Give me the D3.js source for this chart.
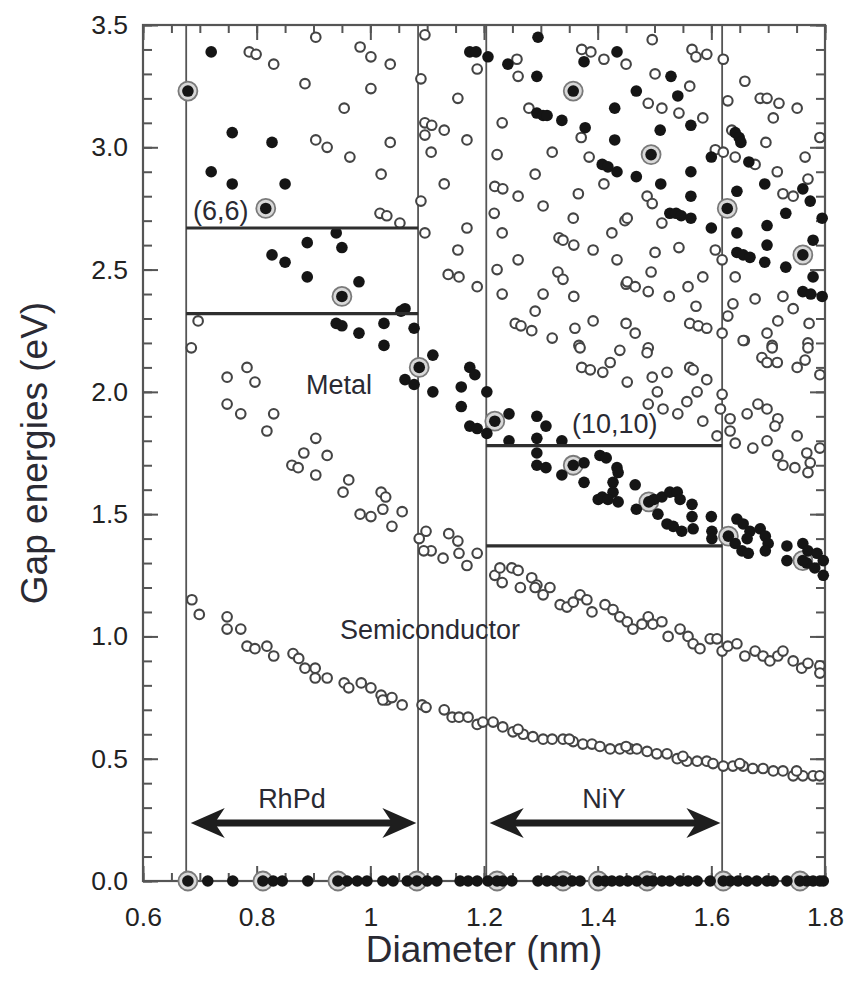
<!DOCTYPE html>
<html>
<head>
<meta charset="utf-8">
<script src="https://cdn.jsdelivr.net/npm/d3@7"></script>
<style>
  body { margin: 0; background: #fff; }
  svg { display: block; }
</style>
</head>
<body>
<div id="chart"></div>
<script>
// semiconducting tubes (open circles), [diameter nm, gap eV]
var semiPts = [
  [0.904,3.45],[0.787,3.39],[0.799,3.38],[0.830,3.34],[0.982,3.41],[1.001,3.37],[1.035,3.34],[0.885,3.26],
  [1.001,3.24],[0.954,3.16],[0.904,3.03],[0.924,3.00],[0.964,2.96],[1.035,3.02],[1.019,2.89],[1.017,2.73],
  [1.029,2.72],[1.052,2.69],[0.697,2.29],[0.685,2.18],
  [1.096,3.46],[1.089,3.28],[1.188,3.32],[1.154,3.20],[1.096,3.10],[1.108,3.09],[1.096,3.05],[1.130,3.07],
  [1.107,2.98],[1.170,3.03],[1.130,2.85],[1.089,2.78],[1.096,2.65],[1.170,2.67],[1.154,2.58],[1.137,2.48],
  [1.156,2.47],[1.188,2.43],
  [1.232,3.10],[1.223,2.97],[1.219,2.84],[1.233,2.83],[1.260,2.80],[1.304,2.76],[1.218,2.73],[1.232,2.65],
  [1.320,2.98],[1.290,2.89],[1.279,3.16],[1.258,3.36],[1.260,3.29],[1.372,3.40],[1.388,3.39],[1.411,3.36],
  [1.450,3.34],[1.371,3.04],[1.385,2.96],[1.411,2.85],[1.366,2.81],[1.357,2.71],[1.425,2.65],[1.448,2.70],
  [1.332,2.63],[1.339,2.62],[1.358,2.60],[1.392,2.58],[1.260,2.54],[1.223,2.50],[1.330,2.49],[1.339,2.46],
  [1.434,2.54],[1.450,2.44],[1.232,2.40],[1.304,2.40],[1.358,2.39],[1.290,2.33],[1.255,2.28],[1.265,2.27],
  [1.284,2.25],[1.320,2.22],[1.360,2.26],[1.392,2.29],[1.367,2.19],[1.450,2.28],
  [1.496,3.44],[1.566,3.40],[1.573,3.37],[1.592,3.38],[1.621,3.36],[1.501,3.30],[1.562,3.25],[1.489,3.18],
  [1.513,3.16],[1.543,3.14],[1.585,3.12],[1.659,3.27],[1.629,3.19],[1.686,3.20],[1.698,3.20],[1.719,3.18],
  [1.751,3.16],[1.709,3.12],[1.636,3.07],[1.696,3.02],[1.791,3.04],[1.607,2.99],[1.621,2.98],[1.642,2.96],
  [1.677,2.93],[1.765,2.96],[1.716,2.90],[1.770,2.87],[1.726,2.81],[1.744,2.80],[1.487,2.80],[1.496,2.77],
  [1.452,2.71],[1.513,2.69],[1.501,2.57],[1.543,2.59],[1.607,2.58],[1.619,2.54],[1.494,2.49],[1.452,2.45],
  [1.466,2.43],[1.489,2.41],[1.526,2.39],[1.559,2.43],[1.585,2.47],[1.642,2.47],[1.573,2.35],[1.562,2.28],
  [1.577,2.27],[1.592,2.26],[1.619,2.24],[1.638,2.36],[1.629,2.31],[1.677,2.38],[1.726,2.39],[1.744,2.34],
  [1.717,2.29],[1.698,2.24],[1.658,2.21],[1.772,2.28],[1.466,2.24],[1.770,2.20],[1.489,2.18],[1.707,2.19],
  [0.748,2.06],[0.783,2.10],[0.797,2.04],[0.748,1.95],[0.772,1.91],[0.830,1.91],[0.818,1.84],[0.904,1.81],
  [0.883,1.75],[0.924,1.74],[0.862,1.70],[0.873,1.69],[0.904,1.66],[0.962,1.64],[0.952,1.59],[1.019,1.59],
  [1.027,1.57],[1.022,1.52],[0.982,1.50],[1.001,1.49],[1.056,1.51],[1.038,1.45],[1.098,1.43],[1.086,1.40],
  [1.107,1.35],[1.094,1.35],[1.138,1.42],[1.154,1.39],[1.156,1.34],[1.128,1.32],[1.170,1.29],[1.188,1.34],
  [1.369,2.18],[1.439,2.17],[1.422,2.12],[1.409,2.08],[1.372,2.10],[1.387,2.09],[1.487,2.16],[1.452,2.04],
  [1.496,2.06],[1.505,2.00],[1.489,1.95],[1.515,1.93],[1.522,2.08],[1.562,2.10],[1.568,2.09],[1.592,2.05],
  [1.575,2.00],[1.557,1.96],[1.541,1.91],[1.585,1.88],[1.619,1.99],[1.616,1.93],[1.633,1.89],[1.633,1.84],
  [1.610,1.82],[1.642,1.79],[1.656,2.21],[1.663,1.91],[1.673,1.77],[1.682,1.95],[1.698,1.93],[1.717,1.89],
  [1.712,1.86],[1.698,1.80],[1.717,1.74],[1.726,1.70],[1.747,1.69],[1.689,2.14],[1.698,2.12],[1.716,2.12],
  [1.707,2.18],[1.751,2.10],[1.765,2.13],[1.770,2.18],[1.751,1.82],[1.768,1.75],[1.774,1.71],[1.770,1.67],
  [1.791,2.07],[1.791,1.77],
  [1.219,1.25],[1.228,1.28],[1.249,1.28],[1.260,1.27],[1.264,1.20],[1.284,1.24],[1.293,1.21],[1.304,1.17],
  [1.316,1.20],[1.232,1.22],[1.290,1.20],
  [1.334,1.13],[1.346,1.12],[1.357,1.14],[1.369,1.17],[1.381,1.15],[1.390,1.10],[1.413,1.13],[1.427,1.11],
  [1.439,1.08],[1.452,1.06],[1.462,1.03],[1.478,1.05],[1.489,1.08],[1.497,1.05],[1.513,1.06],[1.524,1.00],
  [1.545,1.03],[1.559,1.00],[1.568,0.97],[1.580,0.95],[1.598,0.99],[1.610,0.99],[1.619,0.94],[1.629,0.96],
  [1.645,0.97],[1.659,0.92],[1.677,0.94],[1.691,0.92],[1.703,0.90],[1.717,0.92],[1.726,0.94],[1.744,0.90],
  [1.759,0.87],[1.770,0.89],[1.791,0.88],[1.791,0.85],
  [0.686,1.15],[0.699,1.09],[0.748,1.08],[0.748,1.03],[0.772,1.03],[0.783,0.96],[0.797,0.95],[0.818,0.96],
  [0.830,0.92],[0.864,0.93],[0.874,0.91],[0.885,0.87],[0.903,0.87],[0.903,0.83],[0.924,0.83],[0.954,0.81],
  [0.962,0.79],[0.984,0.81],[1.001,0.79],[1.019,0.76],[1.029,0.74],[1.022,0.74],[1.038,0.75],[1.056,0.72],
  [1.091,0.72],[1.098,0.71],[1.130,0.70],[1.144,0.67],[1.156,0.67],[1.172,0.67],[1.188,0.64],
  [1.198,0.65],[1.216,0.65],[1.233,0.63],[1.251,0.61],[1.269,0.60],[1.286,0.59],[1.304,0.58],[1.320,0.58],
  [1.339,0.58],[1.357,0.57],[1.374,0.56],[1.390,0.56],[1.404,0.55],[1.422,0.54],[1.439,0.54],[1.457,0.54],
  [1.469,0.54],[1.487,0.53],[1.504,0.52],[1.522,0.52],[1.540,0.50],[1.557,0.49],[1.575,0.49],[1.592,0.49],
  [1.603,0.48],[1.621,0.47],[1.638,0.47],[1.656,0.47],[1.673,0.46],[1.691,0.46],[1.709,0.45],[1.726,0.45],
  [1.744,0.43],[1.761,0.43],[1.779,0.43],[1.791,0.43],
  [1.26,0.62],[1.35,0.58],[1.45,0.55],[1.55,0.51],[1.65,0.48],[1.75,0.45]
];

// metallic tubes (filled dots)
var metalPts = [
  [0.720,3.39],[0.757,3.06],[0.827,3.02],[0.720,2.90],[0.757,2.85],[0.850,2.85],
  [0.940,2.65],[0.889,2.61],[0.950,2.59],[0.827,2.56],[0.850,2.53],[0.889,2.47],[0.980,2.45],
  [1.054,2.33],[0.940,2.28],[0.950,2.27],[0.980,2.24],[1.024,2.28],[1.024,2.19],
  [1.061,2.34],[1.077,2.26],[1.110,2.15],[1.061,2.05],[1.077,2.03],[1.110,2.00],
  [1.175,2.10],[1.184,2.07],[1.160,2.02],[1.160,1.94],[1.205,2.00],[1.175,1.86],[1.188,1.85],[1.205,1.83],
  [1.244,1.91],[1.244,1.80],[1.293,1.90],[1.309,1.86],[1.293,1.81],[1.293,1.75],[1.337,1.80],[1.293,1.70],
  [1.309,1.69],[1.337,1.66],[1.376,1.71],[1.376,1.63],[1.401,1.56],
  [1.404,1.74],[1.415,1.73],[1.434,1.69],[1.436,1.67],[1.427,1.63],[1.427,1.59],[1.408,1.57],[1.418,1.56],
  [1.436,1.55],[1.466,1.62],[1.468,1.52],[1.499,1.56],
  [1.513,1.57],[1.527,1.59],[1.540,1.59],[1.545,1.56],[1.506,1.50],[1.522,1.46],[1.533,1.45],[1.548,1.43],
  [1.566,1.54],[1.566,1.49],[1.568,1.44],[1.600,1.49],[1.601,1.43],[1.601,1.40],
  [1.645,1.48],[1.656,1.46],[1.642,1.38],[1.654,1.35],[1.665,1.34],[1.668,1.43],[1.663,1.40],[1.686,1.44],
  [1.695,1.41],[1.700,1.38],[1.695,1.35],[1.733,1.37],[1.733,1.31],
  [1.761,1.38],[1.770,1.35],[1.786,1.34],[1.797,1.31],[1.768,1.30],[1.782,1.28],[1.797,1.25],
  [1.295,3.45],[1.175,3.39],[1.186,3.39],[1.207,3.37],[1.242,3.34],[1.293,3.29],[1.293,3.14],[1.304,3.13],
  [1.311,3.13],[1.337,3.11],[1.378,3.08],[1.376,3.35],[1.434,3.39],[1.430,3.16],[1.430,3.03],[1.408,2.93],
  [1.418,2.92],[1.434,2.90],
  [1.529,3.29],[1.468,3.23],[1.541,3.21],[1.564,3.09],[1.510,3.07],[1.468,2.88],[1.564,2.90],[1.511,2.85],
  [1.564,2.80],[1.527,2.73],[1.538,2.73],[1.547,2.72],[1.564,2.71],[1.600,2.67],[1.600,2.96],
  [1.642,3.06],[1.649,3.04],[1.652,3.02],[1.666,2.94],[1.645,2.82],[1.694,2.85],[1.731,2.73],[1.761,2.83],
  [1.774,2.78],[1.795,2.71],[1.645,2.65],[1.698,2.68],[1.698,2.60],[1.645,2.57],[1.656,2.56],[1.668,2.55],
  [1.694,2.53],[1.731,2.51],[1.779,2.62],[1.779,2.47],[1.761,2.41],[1.775,2.40],[1.795,2.39]
];

// armchair tubes (ringed dots)
var armchairPts = [
  [0.679,3.23],[0.816,2.75],[0.950,2.39],[1.086,2.10],[1.219,1.88],[1.357,1.70],[1.490,1.55],[1.630,1.41],
  [1.761,1.31],[1.357,3.23],[1.494,2.97],[1.628,2.75],[1.761,2.56]
];

// metallic tubes at zero gap (diameters)
var zeroDiam = [
  0.714,0.758,0.829,0.845,0.890,0.959,0.977,0.994,1.022,1.040,1.065,1.100,1.117,1.158,1.172,1.188,1.207,
  1.233,1.249,1.295,1.311,1.325,1.355,1.369,1.413,1.425,1.439,1.453,1.469,1.497,1.513,1.527,1.545,1.559,
  1.575,1.598,1.633,1.647,1.663,1.680,1.698,1.709,1.733,1.768,1.779,1.791,1.797
];
var zeroRinged = [0.679,0.811,0.943,1.082,1.223,1.339,1.401,1.487,1.621,1.756];

// catalyst windows
var windowLines = [0.676, 1.084, 1.204, 1.619];
var bars = [
  {from: 0.676, to: 1.084, e: 2.67},
  {from: 0.676, to: 1.084, e: 2.32},
  {from: 1.204, to: 1.619, e: 1.78},
  {from: 1.204, to: 1.619, e: 1.37}
];
var arrows = [
  {label: 'RhPd', from: 0.684, to: 1.081, e: 0.237, labelD: 0.862, labelE: 0.30},
  {label: 'NiY', from: 1.210, to: 1.616, e: 0.237, labelD: 1.411, labelE: 0.30}
];
var notes = [
  {text: '(6,6)', d: 0.688, e: 2.74, anchor: 'start'},
  {text: 'Metal', d: 0.945, e: 2.03, anchor: 'middle'},
  {text: '(10,10)', d: 1.430, e: 1.87, anchor: 'middle'},
  {text: 'Semiconductor', d: 1.105, e: 1.03, anchor: 'middle'}
];

var xTicks = [0.6, 0.8, 1.0, 1.2, 1.4, 1.6, 1.8];
var yTicks = [0, 0.5, 1, 1.5, 2, 2.5, 3, 3.5];

var width = 846, height = 981;
var font = '"Liberation Sans", Arial, sans-serif';

var svg = d3.select('#chart').append('svg')
    .attr('width', width)
    .attr('height', height);

var x = d3.scaleLinear().domain([0.6, 1.8]).range([143, 825]);
var y = d3.scaleLinear().domain([0, 3.5]).range([881, 25]);

var minorX = d3.range(0.6, 1.8001, 0.05);
var minorY = d3.range(0, 3.5001, 0.1);

// window lines
svg.append('g').selectAll('line').data(windowLines).enter().append('line')
    .attr('x1', function(d) { return x(d); })
    .attr('x2', function(d) { return x(d); })
    .attr('y1', y(3.5)).attr('y2', y(0))
    .attr('stroke', '#555').attr('stroke-width', 1.8);

// ticks (inward)
function tickAxis(axis, tr) {
    var g = svg.append('g').attr('transform', tr).call(axis);
    g.select('.domain').remove();
    g.selectAll('line').attr('stroke', '#555').attr('stroke-width', 2);
    g.selectAll('text').attr('fill', '#222').style('font-family', font).style('font-size', '26.5px');
    return g;
}
tickAxis(d3.axisBottom(x).tickValues(minorX).tickSize(-8).tickFormat(''), 'translate(0,' + y(0) + ')');
tickAxis(d3.axisBottom(x).tickValues(xTicks).tickSize(-15).tickPadding(26)
    .tickFormat(function(d) { return d === 1 ? '1' : d3.format('.1f')(d); }), 'translate(0,' + y(0) + ')');
tickAxis(d3.axisTop(x).tickValues(minorX).tickSize(-8).tickFormat(''), 'translate(0,' + y(3.5) + ')');
tickAxis(d3.axisTop(x).tickValues(xTicks).tickSize(-15).tickFormat(''), 'translate(0,' + y(3.5) + ')');
tickAxis(d3.axisLeft(y).tickValues(minorY).tickSize(-9).tickFormat(''), 'translate(' + x(0.6) + ',0)');
tickAxis(d3.axisLeft(y).tickValues(yTicks).tickSize(-15).tickPadding(15)
    .tickFormat(d3.format('.1f')), 'translate(' + x(0.6) + ',0)');
tickAxis(d3.axisRight(y).tickValues(minorY).tickSize(-9).tickFormat(''), 'translate(' + x(1.8) + ',0)');
tickAxis(d3.axisRight(y).tickValues(yTicks).tickSize(-15).tickFormat(''), 'translate(' + x(1.8) + ',0)');

// frame
svg.append('rect')
    .attr('x', x(0.6)).attr('y', y(3.5))
    .attr('width', x(1.8) - x(0.6)).attr('height', y(0) - y(3.5))
    .attr('fill', 'none').attr('stroke', '#555').attr('stroke-width', 2.2);

// points
var pts = svg.append('g');
pts.selectAll('circle.semi').data(semiPts).enter().append('circle')
    .attr('class', 'semi')
    .attr('cx', function(d) { return x(d[0]); })
    .attr('cy', function(d) { return y(d[1]); })
    .attr('r', 4.8)
    .attr('fill', '#fff').attr('stroke', '#444').attr('stroke-width', 2.1);

var metalAll = metalPts.concat(zeroDiam.map(function(d) { return [d, 0]; }));
var ringAll = armchairPts.concat(zeroRinged.map(function(d) { return [d, 0]; }));

pts.selectAll('circle.ring').data(ringAll).enter().append('circle')
    .attr('class', 'ring')
    .attr('cx', function(d) { return x(d[0]); })
    .attr('cy', function(d) { return y(d[1]); })
    .attr('r', 9.5)
    .attr('fill', '#d8d8d8').attr('stroke', '#7a7a7a').attr('stroke-width', 1.8);

pts.selectAll('circle.metal').data(metalAll.concat(ringAll)).enter().append('circle')
    .attr('class', 'metal')
    .attr('cx', function(d) { return x(d[0]); })
    .attr('cy', function(d) { return y(d[1]); })
    .attr('r', 5.8)
    .attr('fill', '#151515');

// horizontal bars
svg.append('g').selectAll('line').data(bars).enter().append('line')
    .attr('x1', function(d) { return x(d.from); })
    .attr('x2', function(d) { return x(d.to); })
    .attr('y1', function(d) { return y(d.e); })
    .attr('y2', function(d) { return y(d.e); })
    .attr('stroke', '#2e2e2e').attr('stroke-width', 3.2);

// arrows
var ag = svg.append('g');
arrows.forEach(function(a) {
    var x0 = x(a.from), x1 = x(a.to), yy = y(a.e);
    ag.append('line')
        .attr('x1', x0 + 20).attr('x2', x1 - 20)
        .attr('y1', yy).attr('y2', yy)
        .attr('stroke', '#1e1e1e').attr('stroke-width', 7);
    [[x0, 1], [x1, -1]].forEach(function(h) {
        var tx = h[0], s = h[1];
        ag.append('path')
            .attr('d', 'M' + tx + ',' + yy +
                'L' + (tx + s * 34) + ',' + (yy - 15) +
                'L' + (tx + s * 24) + ',' + yy +
                'L' + (tx + s * 34) + ',' + (yy + 15) + 'Z')
            .attr('fill', '#1e1e1e');
    });
    ag.append('text')
        .attr('x', x(a.labelD)).attr('y', y(a.labelE))
        .attr('text-anchor', 'middle')
        .attr('fill', '#2a2a33')
        .style('font-family', font).style('font-size', '27px')
        .text(a.label);
});

// annotations
svg.append('g').selectAll('text').data(notes).enter().append('text')
    .attr('x', function(d) { return x(d.d); })
    .attr('y', function(d) { return y(d.e); })
    .attr('dy', '0.35em')
    .attr('text-anchor', function(d) { return d.anchor; })
    .attr('fill', '#2a2a33')
    .style('font-family', font).style('font-size', '27px')
    .text(function(d) { return d.text; });

// axis titles
svg.append('text')
    .attr('x', (x(0.6) + x(1.8)) / 2).attr('y', 962)
    .attr('text-anchor', 'middle')
    .attr('fill', '#2a2a33')
    .style('font-family', font).style('font-size', '37px')
    .text('Diameter (nm)');

svg.append('text')
    .attr('transform', 'translate(47,' + ((y(0) + y(3.5)) / 2) + ') rotate(-90)')
    .attr('text-anchor', 'middle')
    .attr('fill', '#2a2a33')
    .style('font-family', font).style('font-size', '37px')
    .text('Gap energies (eV)');
</script>
</body>
</html>
